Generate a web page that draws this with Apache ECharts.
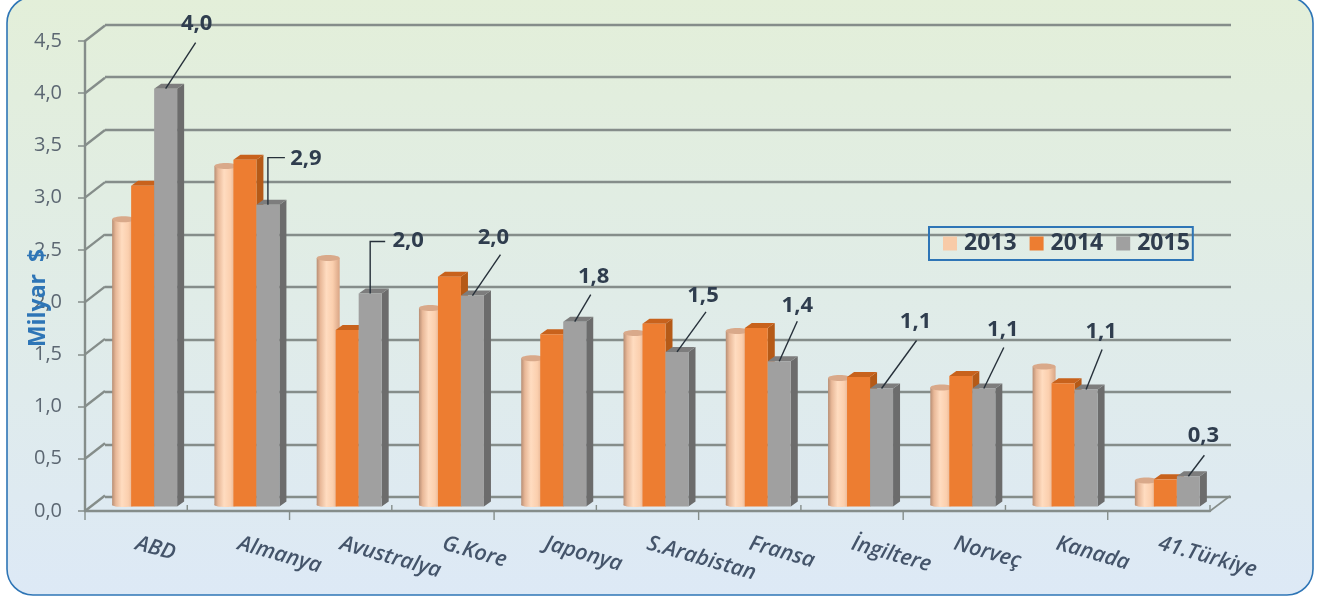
<!DOCTYPE html>
<html><head><meta charset="utf-8">
<style>html,body{margin:0;padding:0;background:#fff}#c{width:1330px;height:600px}</style>
<script src="https://cdn.jsdelivr.net/npm/echarts@6/dist/echarts.min.js"></script>
</head><body><div id="c"></div>
<script>
const categories = ['ABD','Almanya','Avustralya','G.Kore','Japonya','S.Arabistan','Fransa','İngiltere','Norveç','Kanada','41.Türkiye'];
const values2013 = [2.75,3.26,2.38,1.90,1.42,1.66,1.68,1.23,1.14,1.34,0.25];
const values2014 = [3.07,3.32,1.69,2.20,1.65,1.75,1.71,1.24,1.25,1.18,0.26];
const values2015 = [4.00,2.89,2.04,2.02,1.77,1.48,1.39,1.13,1.13,1.12,0.29];
const labels2015 = ['4,0','2,9','2,0','2,0','1,8','1,5','1,4','1,1','1,1','1,1','0,3'];
const yTicks = [0,0.5,1,1.5,2,2.5,3,3.5,4,4.5];

// layout of the callouts, relative to the top of each 2015 bar
const leaderPaths = [[[30,-46]],[[0,-47],[17,-47]],[[0,-52],[15,-52]],[[28,-41]],[[16,-27]],[[29,-40]],[[18,-40]],[[35,-48]],[[20,-41]],[[16,-40]],[[16,-21]]];
const labelOffsets = [[31,-65],[38,-46],[38,-53],[21,-58],[19,-45],[26,-56],[18,-56],[34,-67],[19,-59],[15,-58],[15,-40]];

const FONT = '"Open Sans", sans-serif';
const DEPTH_X = 7, DEPTH_Y = 5, LIFT = 4.5, REF_BAND = 102.27;

function base(api, i, v) {
  const p = api.coord([i, v]);
  return { cx: p[0], y: p[1] - LIFT, y0: api.coord([i, 0])[1] - LIFT, u: api.size([1, 0])[0] / REF_BAND };
}
function box(api, off, colors, extra) {
  const i = api.value(0), b = base(api, i, api.value(1));
  const x0 = b.cx + off * b.u, w = 23 * b.u, x1 = x0 + w;
  const kids = [
    { type: 'polygon', shape: { points: [[x1, b.y], [x1 + DEPTH_X, b.y - DEPTH_Y], [x1 + DEPTH_X, b.y0 - DEPTH_Y], [x1, b.y0]] }, style: { fill: colors.side } },
    { type: 'polygon', shape: { points: [[x0, b.y], [x0 + DEPTH_X, b.y - DEPTH_Y], [x1 + DEPTH_X, b.y - DEPTH_Y], [x1, b.y]] }, style: { fill: colors.top } },
    { type: 'rect', shape: { x: x0, y: b.y, width: w, height: b.y0 - b.y }, style: { fill: colors.face } }
  ];
  if (extra) extra(kids, i, x0 + w / 2, b.y);
  return { type: 'group', children: kids };
}
function cylinder(params, api) {
  const i = api.value(0), b = base(api, i, api.value(1));
  const x0 = b.cx - 24 * b.u, w = 23 * b.u, rx = w / 2, cx = x0 + rx, ry = 3;
  const grad = new echarts.graphic.LinearGradient(0, 0, 1, 0, [
    { offset: 0, color: '#b88e74' }, { offset: 0.16, color: '#e8b898' }, { offset: 0.42, color: '#ffdcc0' },
    { offset: 0.7, color: '#fbcfae' }, { offset: 1, color: '#d9a585' }]);
  return { type: 'group', children: [
    { type: 'ellipse', shape: { cx: cx, cy: b.y0 - 1.5, rx: rx, ry: 2 }, style: { fill: grad } },
    { type: 'rect', shape: { x: x0, y: b.y, width: w, height: b.y0 - 1.5 - b.y }, style: { fill: grad } },
    { type: 'ellipse', shape: { cx: cx, cy: b.y, rx: rx, ry: ry }, style: { fill: '#d9a98a' } }
  ] };
}
function renderOrange(params, api) {
  return box(api, -5, { face: '#ed7d31', side: '#b55a17', top: '#c8621c' });
}
function renderGrey(params, api) {
  return box(api, 18, { face: '#a0a0a0', side: '#6c6c6c', top: '#7d7d7d' }, function (kids, i, ax, ay) {
    const pts = [[ax, ay]].concat(leaderPaths[i].map(function (d) { return [ax + d[0], ay + d[1]]; }));
    kids.push({ type: 'polyline', shape: { points: pts }, style: { stroke: '#26303a', lineWidth: 1.4, fill: null } });
    kids.push({ type: 'text', x: ax + labelOffsets[i][0], y: ay + labelOffsets[i][1],
      style: { text: labels2015[i], font: 'bold 22px ' + FONT, fill: '#2f3d4e', align: 'center', verticalAlign: 'middle' } });
  });
}
function renderDiagonal(params, api) {
  const p = api.coord([0, api.value(0)]), x = p[0] - api.size([1, 0])[0] / 2;
  return { type: 'line', shape: { x1: x, y1: p[1], x2: x + 20, y2: p[1] - 15.5 }, style: { stroke: '#858d8a', lineWidth: 2.4 } };
}
function renderBoundary(params, api) {
  const i = api.value(0), band = api.size([1, 0])[0], p = api.coord([0, 0]);
  const x = p[0] - band / 2 + band * i, below = i % 2 === 0;
  return { type: 'line', shape: { x1: x, y1: below ? p[1] : p[1] - 6, x2: x, y2: below ? p[1] + 9 : p[1] }, style: { stroke: '#858d8a', lineWidth: 1.4 } };
}
function renderFloorEnd(params, api) {
  const band = api.size([1, 0])[0], p = api.coord([categories.length - 1, 0]), x = p[0] + band / 2;
  return { type: 'line', shape: { x1: x, y1: p[1], x2: x + 20, y2: p[1] - 15 }, style: { stroke: '#858d8a', lineWidth: 1.6 } };
}
const rows = function (vals) { return vals.map(function (v, i) { return [i, v]; }); };

const chart = echarts.init(document.getElementById('c'));
chart.setOption({
  animation: false,
  graphic: [
    { type: 'rect', z: -10, shape: { x: 7, y: -3, width: 1306, height: 598, r: 26 },
      style: { fill: new echarts.graphic.LinearGradient(0, 0, 0, 1, [{ offset: 0, color: '#e3efd9' }, { offset: 1, color: '#dde9f6' }]), stroke: '#2e75b6', lineWidth: 1.6 } },
    { type: 'text', z: 20, x: 38, y: 298, rotation: Math.PI / 2,
      style: { text: 'Milyar  $', font: 'bold 23px ' + FONT, fill: '#2e75b6', align: 'center', verticalAlign: 'middle' } }
  ],
  legend: {
    left: 929, top: 227, itemWidth: 14, itemHeight: 14, itemGap: 13, padding: [5, 3, 5, 14], selectedMode: false,
    borderColor: '#2e75b6', borderWidth: 2, icon: 'rect', data: ['2013', '2014', '2015'],
    textStyle: { fontFamily: FONT, fontSize: 23, fontWeight: 'bold', color: '#2f3d4e', padding: [0, 0, 0, 2] }
  },
  grid: [
    { left: 85, right: 120, top: 41, bottom: 89 },
    { left: 105, right: 99, top: 24.5, bottom: 103 }
  ],
  xAxis: [
    { gridIndex: 0, type: 'category', data: categories, axisTick: { show: false },
      axisLine: { lineStyle: { color: '#858d8a', width: 2.4 } },
      axisLabel: { interval: 0, rotate: -16, margin: 32, fontFamily: FONT, fontSize: 21.5, fontStyle: 'italic', fontWeight: 600, color: '#44546a' } },
    { gridIndex: 1, type: 'category', data: categories, show: false }
  ],
  yAxis: [
    { gridIndex: 0, type: 'value', min: 0, max: 4.5, interval: 0.5, splitLine: { show: false },
      axisLine: { show: true, lineStyle: { color: '#858d8a', width: 2.4 } },
      axisTick: { show: true, length: 7, lineStyle: { color: '#858d8a', width: 1.5 } },
      axisLabel: { margin: 23, padding: [8, 0, 0, 0], fontFamily: FONT, fontSize: 20, color: '#5c6772', formatter: function (v) { return v.toFixed(1).replace('.', ','); } } },
    { gridIndex: 1, type: 'value', min: 0, max: 4.5, interval: 0.5, axisLine: { show: false }, axisTick: { show: false }, axisLabel: { show: false },
      splitLine: { show: true, lineStyle: { color: '#858d8a', width: 2.4 } } }
  ],
  series: [
    { type: 'custom', silent: true, data: yTicks.map(function (t) { return [t]; }), renderItem: renderDiagonal, encode: { y: 0 }, z: 1 },
    { type: 'custom', silent: true, data: categories.concat(['']).map(function (c, i) { return [i]; }), renderItem: renderBoundary, encode: { x: 0 }, z: 1 },
    { type: 'custom', silent: true, data: [[0]], renderItem: renderFloorEnd, z: 1 },
    { name: '2013', type: 'custom', data: rows(values2013), renderItem: cylinder, encode: { x: 0, y: 1 }, itemStyle: { color: '#f8cba8' }, z: 3 },
    { name: '2014', type: 'custom', data: rows(values2014), renderItem: renderOrange, encode: { x: 0, y: 1 }, itemStyle: { color: '#ed7d31' }, z: 4 },
    { name: '2015', type: 'custom', data: rows(values2015), renderItem: renderGrey, encode: { x: 0, y: 1 }, itemStyle: { color: '#a0a0a0' }, z: 5 }
  ]
});
</script></body></html>
